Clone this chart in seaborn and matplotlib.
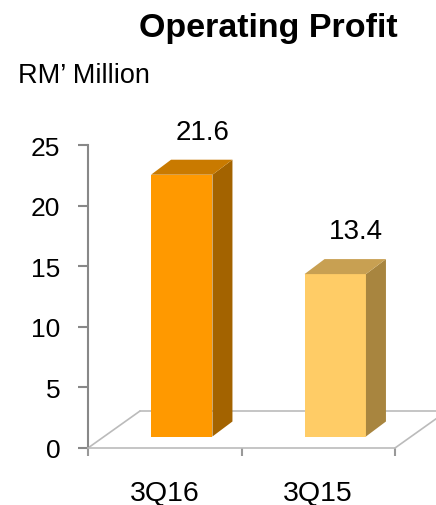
import numpy as np
import matplotlib
matplotlib.use("Agg")
import matplotlib.pyplot as plt
from matplotlib.patches import Polygon
import seaborn as sns

# chart data
quarters = ["3Q16", "3Q15"]
profit = [21.6, 13.4]
front_colors = ["#FF9900", "#FFCC66"]
side_colors = ["#A36300", "#A8853F"]
top_colors = ["#C97A00", "#C8A052"]
y_ticks = [0, 5, 10, 15, 20, 25]

sns.set_theme(style="white")
plt.rcParams['font.family'] = ['Liberation Sans', 'DejaVu Sans']
plt.rcParams['text.color'] = 'black'
plt.rcParams['xtick.labelcolor'] = 'black'
plt.rcParams['ytick.labelcolor'] = 'black'

W, H = 436, 506
fig = plt.figure(figsize=(W / 100, H / 100), dpi=100)
# axes box in pixels: x 88..395, y 146..449 (from top)
ax = fig.add_axes([88 / W, (H - 449) / H, 307 / W, 303 / H])
ax.set_xlim(-0.5, 1.5)
ax.set_ylim(0, 25)

# pixel -> data unit helpers
px_x = 2.0 / 307
px_y = 25.0 / 303

sns.barplot(x=quarters, y=profit, hue=quarters, palette=front_colors,
            width=0.4, saturation=1, legend=False, ax=ax, zorder=3)

# oblique 3d offsets
ox, oy = 17 * px_x, 11.5 * px_y      # bar front face shift from floor front
dx, dy = 20 * px_x, 15 * px_y        # bar depth
fx, fy = 52 * px_x, 37 * px_y        # floor depth

for i, p in enumerate(ax.patches):
	v = profit[i]
	p.set_x(p.get_x() + ox)
	p.set_y(oy)
	p.set_linewidth(0)
	xl = p.get_x()
	xr = xl + p.get_width()
	top = oy + v
	side = Polygon([(xr, oy), (xr + dx, oy + dy), (xr + dx, top + dy), (xr, top)],
				   closed=True, facecolor=side_colors[i], edgecolor="none", zorder=3)
	lid = Polygon([(xl, top), (xl + dx, top + dy), (xr + dx, top + dy), (xr, top)],
				  closed=True, facecolor=top_colors[i], edgecolor="none", zorder=3)
	ax.add_patch(side)
	ax.add_patch(lid)
	ax.annotate("%.1f" % v, xy=(i, v), xytext=(27, 34), textcoords="offset points",
				ha="center", va="baseline", fontsize=20, color="black",
				annotation_clip=False)

# floor
floor_kw = dict(color="#BBBBBB", lw=1.2, zorder=1, clip_on=False)
ax.plot([-0.5 + fx, 1.5 + fx], [fy, fy], **floor_kw)
ax.plot([-0.5, -0.5 + fx], [0, fy], **floor_kw)
ax.plot([1.5, 1.5 + fx], [0, fy], **floor_kw)

sns.despine(ax=ax, top=True, right=True)
ax.spines["left"].set_color("#888888")
ax.spines["left"].set_linewidth(1.5)
ax.spines["bottom"].set_color("#BBBBBB")
ax.spines["bottom"].set_linewidth(1.2)

ax.set_yticks(y_ticks)
ax.set_yticklabels([str(t) for t in y_ticks])
ax.tick_params(axis="y", length=7, width=1.5, color="#888888", direction="out",
			   pad=13, labelsize=19, left=True, labelcolor="black")
ax.set_xticks([0, 1])
ax.set_xticklabels(quarters)
ax.set_xticks([-0.5, 0.5, 1.5], minor=True)
ax.tick_params(axis="x", which="major", length=0, pad=23, labelsize=20.5,
			   labelcolor="black")
ax.tick_params(axis="x", which="minor", length=6, width=1.5, color="#999999",
			   direction="out", bottom=True)
ax.set_xlabel("")
ax.set_ylabel("")

fig.text(268 / W, 1 - 37 / H, "Operating Profit", ha="center", va="baseline",
		 fontsize=24.5, fontweight="bold", color="black")
fig.text(18 / W, 1 - 83 / H, "RM\u2019 Million", ha="left", va="baseline",
		 fontsize=19.5, color="black")

fig.savefig("out.png", dpi=100)
